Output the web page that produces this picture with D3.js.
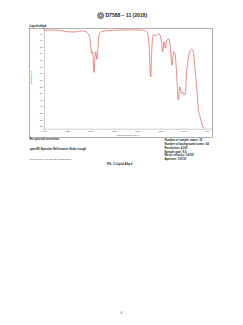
<!DOCTYPE html>
<html>
<head>
<meta charset="utf-8">
<script src="https://cdn.jsdelivr.net/npm/d3@7"></script>
<style>
  html, body { margin: 0; padding: 0; background: #fff; }
  svg { display: block; font-family: "Liberation Sans", Arial, sans-serif; }
</style>
</head>
<body>
<script>
// spectrum: wavenumber (cm-1) and %Reflectance
let wavenumbers = [4000, 3979, 3693, 3549, 3335, 3191, 3084, 3013, 2976, 2955, 2927, 2906, 2891, 2863, 2841, 2820, 2762, 2547,
  2200, 1940, 1833, 1783, 1747, 1710, 1689, 1667, 1639, 1612, 1582, 1547, 1511, 1483, 1453, 1425, 1397, 1367, 1324, 1296,
  1253, 1232, 1217, 1189, 1153, 1118, 1097, 1082, 1054, 1024, 989, 968, 938, 903, 867, 830, 796, 760, 723, 689, 652, 616, 581];
let reflectance = [97.6, 97.5, 97.4, 96.4, 96.0, 96.9, 96.0, 91.2, 79.9, 81.1, 65.5, 77.3, 81.1, 75.4, 84.9, 93.7, 96.5, 97.2,
  97.6, 97.5, 97.0, 95.8, 86.2, 62.2, 81.1, 92.4, 94.2, 93.0, 93.7, 94.7, 93.7, 89.9, 81.1, 88.7, 83.7, 89.9, 90.7, 87.4,
  71.0, 78.6, 81.1, 79.9, 63.5, 44.6, 52.2, 54.7, 49.7, 50.9, 48.4, 49.7, 66.0, 76.1, 81.6, 83.1, 81.1, 68.4, 53.5, 38.4, 32.0, 27.0, 23.3];

let xTicks = [4000, 3500, 3000, 2500, 2000, 1500, 1000, 500];
let yTicks = [25, 30, 35, 40, 45, 50, 55, 60, 65, 70, 75, 80, 85, 90, 95];

let sampleInfo = [
  'Number of sample scans: 32',
  'Number of background scans: 64',
  'Resolution: 4.000',
  'Sample gain: 8.0',
  'Mirror velocity: 0.4747',
  'Aperture: 100.00'
];
let leftNotes = ['No spectral correction', 'spectIR Specular Reflectance Endo trough'];

let width = 243;
let height = 325;

let svg = d3.select('body').append('svg')
  .attr('width', width)
  .attr('height', height);

svg.append('rect').attr('width', width).attr('height', height).attr('fill', '#fff');

// header with the logo
let logo = svg.append('g').attr('transform', 'translate(100.6,15.6)');
logo.append('circle').attr('r', 3.4).attr('fill', '#6a6a6a');
logo.append('circle').attr('r', 2.2).attr('fill', 'none').attr('stroke', '#e8e8e8').attr('stroke-width', 0.5);
logo.append('circle').attr('r', 0.9).attr('fill', '#e8e8e8');

svg.append('text')
  .attr('x', 105.5).attr('y', 17.4)
  .attr('font-size', 5).attr('font-weight', 'bold').attr('fill', '#222')
  .text('D7588 \u2212 11 (2018)');

svg.append('text')
  .attr('x', 29.5).attr('y', 26.6)
  .attr('font-size', 2.9).attr('font-weight', 'bold').attr('fill', '#222')
  .text('Liquid alkyd');

// outer frame of the instrument plot
svg.append('rect')
  .attr('x', 29.3).attr('y', 28.3)
  .attr('width', 183.2).attr('height', 109)
  .attr('fill', 'none').attr('stroke', '#7a7a7a').attr('stroke-width', 0.6);

let x = d3.scaleLinear().domain([4000, 400]).range([44, 211.8]);
let y = d3.scaleLinear().domain([23, 98.8]).range([128.7, 28.3]);

let xAxis = svg.append('g')
  .attr('transform', 'translate(0,128.7)')
  .call(d3.axisBottom(x).tickValues(xTicks).tickSize(1).tickPadding(0.8).tickFormat(d3.format('d')));

let yAxis = svg.append('g')
  .attr('transform', 'translate(44,0)')
  .call(d3.axisLeft(y).tickValues(yTicks).tickSize(1).tickPadding(0.8));

[xAxis, yAxis].forEach((ax) => {
  ax.selectAll('path').attr('stroke', '#888').attr('stroke-width', 0.4);
  ax.selectAll('line').attr('stroke', '#888').attr('stroke-width', 0.3);
  ax.selectAll('text').attr('font-size', 2.3).attr('fill', '#444').attr('font-family', null);
});

svg.append('text')
  .attr('transform', 'translate(32.4,78) rotate(-90)')
  .attr('text-anchor', 'middle')
  .attr('font-size', 2.4).attr('fill', '#444')
  .text('%Reflectance');

svg.append('text')
  .attr('x', 128).attr('y', 136.4)
  .attr('text-anchor', 'middle')
  .attr('font-size', 2.4).attr('fill', '#444')
  .text('Wavenumbers (cm-1)');

// the spectrum
let points = wavenumbers.map((w, i) => [w, reflectance[i]]);
let line = d3.line()
  .x((d) => x(d[0]))
  .y((d) => y(d[1]))
  .curve(d3.curveMonotoneX);

svg.append('path')
  .datum(points)
  .attr('d', line)
  .attr('fill', 'none')
  .attr('stroke', '#e23b3b')
  .attr('stroke-width', 0.6);

// notes under the plot
svg.append('text')
  .attr('x', 29.5).attr('y', 140.4)
  .attr('font-size', 2.8).attr('font-weight', 'bold').attr('fill', '#222')
  .text(leftNotes[0]);

svg.append('text')
  .attr('x', 29.5).attr('y', 150.3)
  .attr('font-size', 2.8).attr('font-weight', 'bold').attr('fill', '#222')
  .text(leftNotes[1]);

svg.append('text')
  .attr('x', 29.5).attr('y', 159.6)
  .attr('font-size', 2.2).attr('fill', '#444')
  .text('Collection time: Tue Sep 25 09:35:20 2018');

svg.selectAll('text.info')
  .data(sampleInfo)
  .enter().append('text')
  .attr('class', 'info')
  .attr('x', 164.5)
  .attr('y', (d, i) => 141.4 + i * 3.74)
  .attr('font-size', 2.8).attr('font-weight', 'bold').attr('fill', '#222')
  .text((d) => d);

svg.append('text')
  .attr('x', 119.5).attr('y', 165.4)
  .attr('text-anchor', 'middle')
  .attr('font-size', 2.8).attr('font-weight', 'bold').attr('fill', '#222')
  .text('FIG. 3 Liquid Alkyd');

svg.append('text')
  .attr('x', 121.3).attr('y', 314.4)
  .attr('text-anchor', 'middle')
  .attr('font-size', 3).attr('fill', '#333')
  .text('4');
</script>
</body>
</html>
